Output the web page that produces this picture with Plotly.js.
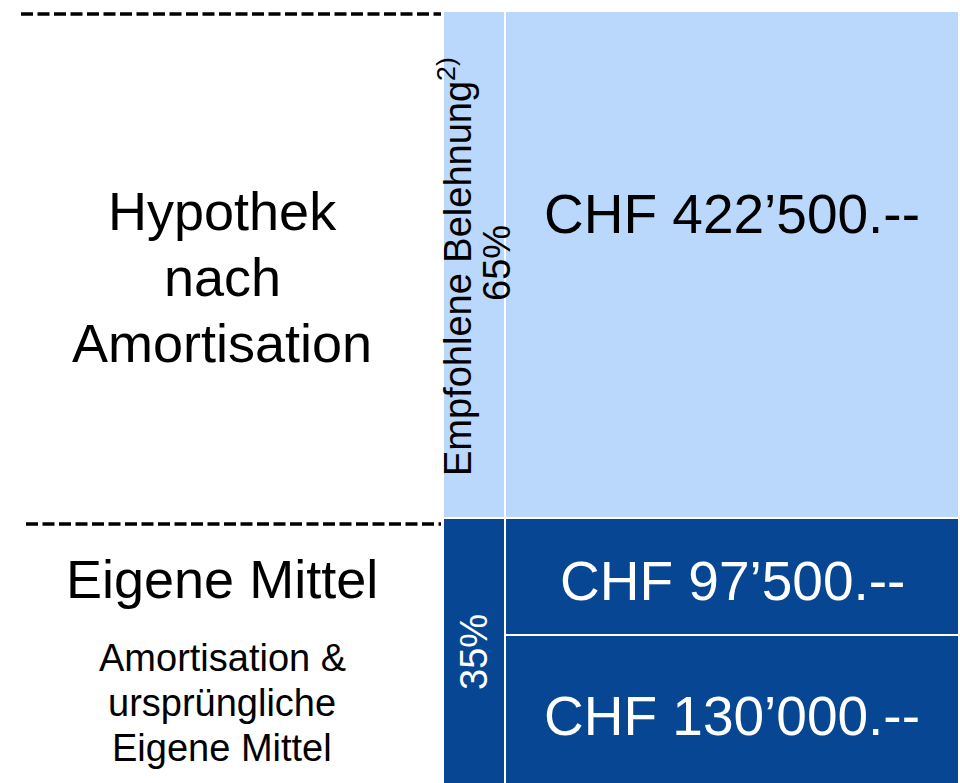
<!DOCTYPE html>
<html>
<head>
<meta charset="utf-8">
<script src="https://cdn.plot.ly/plotly-3.0.1.min.js"></script>
<style>
  html, body { margin: 0; padding: 0; background: #ffffff; }
  #chart { width: 960px; height: 783px; }
</style>
</head>
<body>
<div id="chart"></div>
<script>
// ---- data ----
const columns = ['Anteil', 'Betrag'];
const sharePct = [35, 65];                       // Eigene Mittel, Hypothek
const shareLabels = ['35%', '65%'];
const amounts = [130000, 97500, 422500];          // ursprüngliche Eigene Mittel, Amortisation, Hypothek
const shareTitle = 'Empfohlene Belehnung<sup>2)</sup>';
const rowLabelsTop = ['Hypothek', 'nach', 'Amortisation'];
const rowLabelBottom = 'Eigene Mittel';
const rowSubLabels = ['Amortisation &', 'ursprüngliche', 'Eigene Mittel'];

// ---- styling ----
const LIGHT = '#BAD7FC';
const DARK = '#064692';
const FONT = 'Liberation Sans, Arial, sans-serif';

const total = amounts.reduce((a, b) => a + b, 0);
const shareValues = sharePct.map(p => p * total / 100);
const fmt = v => 'CHF ' + String(v).replace(/\B(?=(\d{3})+(?!\d))/g, '’') + '.--';

// column positions (x axis in pixel-like units)
const colX = [474, 732];
const colW = [62, 454];

const traces = [
  { type: 'bar', x: [colX[0], colX[1]], y: [shareValues[0], amounts[0]], width: [colW[0], colW[1]],
    marker: { color: [DARK, DARK], line: { color: '#ffffff', width: 2 } }, hoverinfo: 'none' },
  { type: 'bar', x: [colX[1]], y: [amounts[1]], width: [colW[1]],
    marker: { color: [DARK], line: { color: '#ffffff', width: 2 } }, hoverinfo: 'none' },
  { type: 'bar', x: [colX[0], colX[1]], y: [shareValues[1], amounts[2]], width: [colW[0], colW[1]],
    marker: { color: [LIGHT, LIGHT], line: { color: '#ffffff', width: 2 } }, hoverinfo: 'none' }
];

const py = p => 1 - p / 783;   // pixel -> paper y

const ann = [];
function addText(text, x, ypx, size, color, angle, xref) {
  ann.push({ text: text, x: x, y: py(ypx), xref: xref || 'x', yref: 'paper',
    xanchor: 'center', yanchor: 'middle', showarrow: false, textangle: angle || 0,
    font: { family: FONT, size: size, color: color } });
}
// left descriptions
addText(rowLabelsTop[0], 222, 211, 54, '#000');
addText(rowLabelsTop[1], 222, 277, 54, '#000');
addText(rowLabelsTop[2], 222, 343, 54, '#000');
addText(rowLabelBottom, 222, 579, 54, '#000');
addText(rowSubLabels[0], 222, 658, 38, '#000');
addText(rowSubLabels[1], 222, 703, 38, '#000');
addText(rowSubLabels[2], 222, 748, 38, '#000');
// share column
addText(shareTitle, 455, 267, 38, '#000', -90);
addText(shareLabels[1], 497, 263, 38, '#000', -90);
addText(shareLabels[0], 474, 652, 38, '#fff', -90);
// amount column
addText(fmt(amounts[2]), colX[1], 214, 55, '#000');
addText(fmt(amounts[1]), colX[1], 581, 55, '#fff');
addText(fmt(amounts[0]), colX[1], 716, 55, '#fff');

const s = 0.0012; // px per CHF
const layout = {
  width: 960, height: 783,
  margin: { l: 0, r: 0, t: 0, b: 0 },
  paper_bgcolor: '#ffffff', plot_bgcolor: '#ffffff',
  barmode: 'stack', showlegend: false,
  xaxis: { range: [0, 960], visible: false, fixedrange: true },
  yaxis: { range: [8 / s, 8 / s + 783 / s], visible: false, fixedrange: true },
  annotations: ann,
  shapes: [
    { type: 'line', xref: 'x', yref: 'paper', x0: 21, x1: 441, y0: py(14), y1: py(14),
      line: { color: '#000', width: 3.5, dash: '12px,4.5px' } },
    { type: 'line', xref: 'x', yref: 'paper', x0: 26, x1: 441, y0: py(524), y1: py(524),
      line: { color: '#000', width: 3.5, dash: '12px,4.5px' } }
  ]
};

Plotly.newPlot('chart', traces, layout, { displayModeBar: false, staticPlot: true });
</script>
</body>
</html>
